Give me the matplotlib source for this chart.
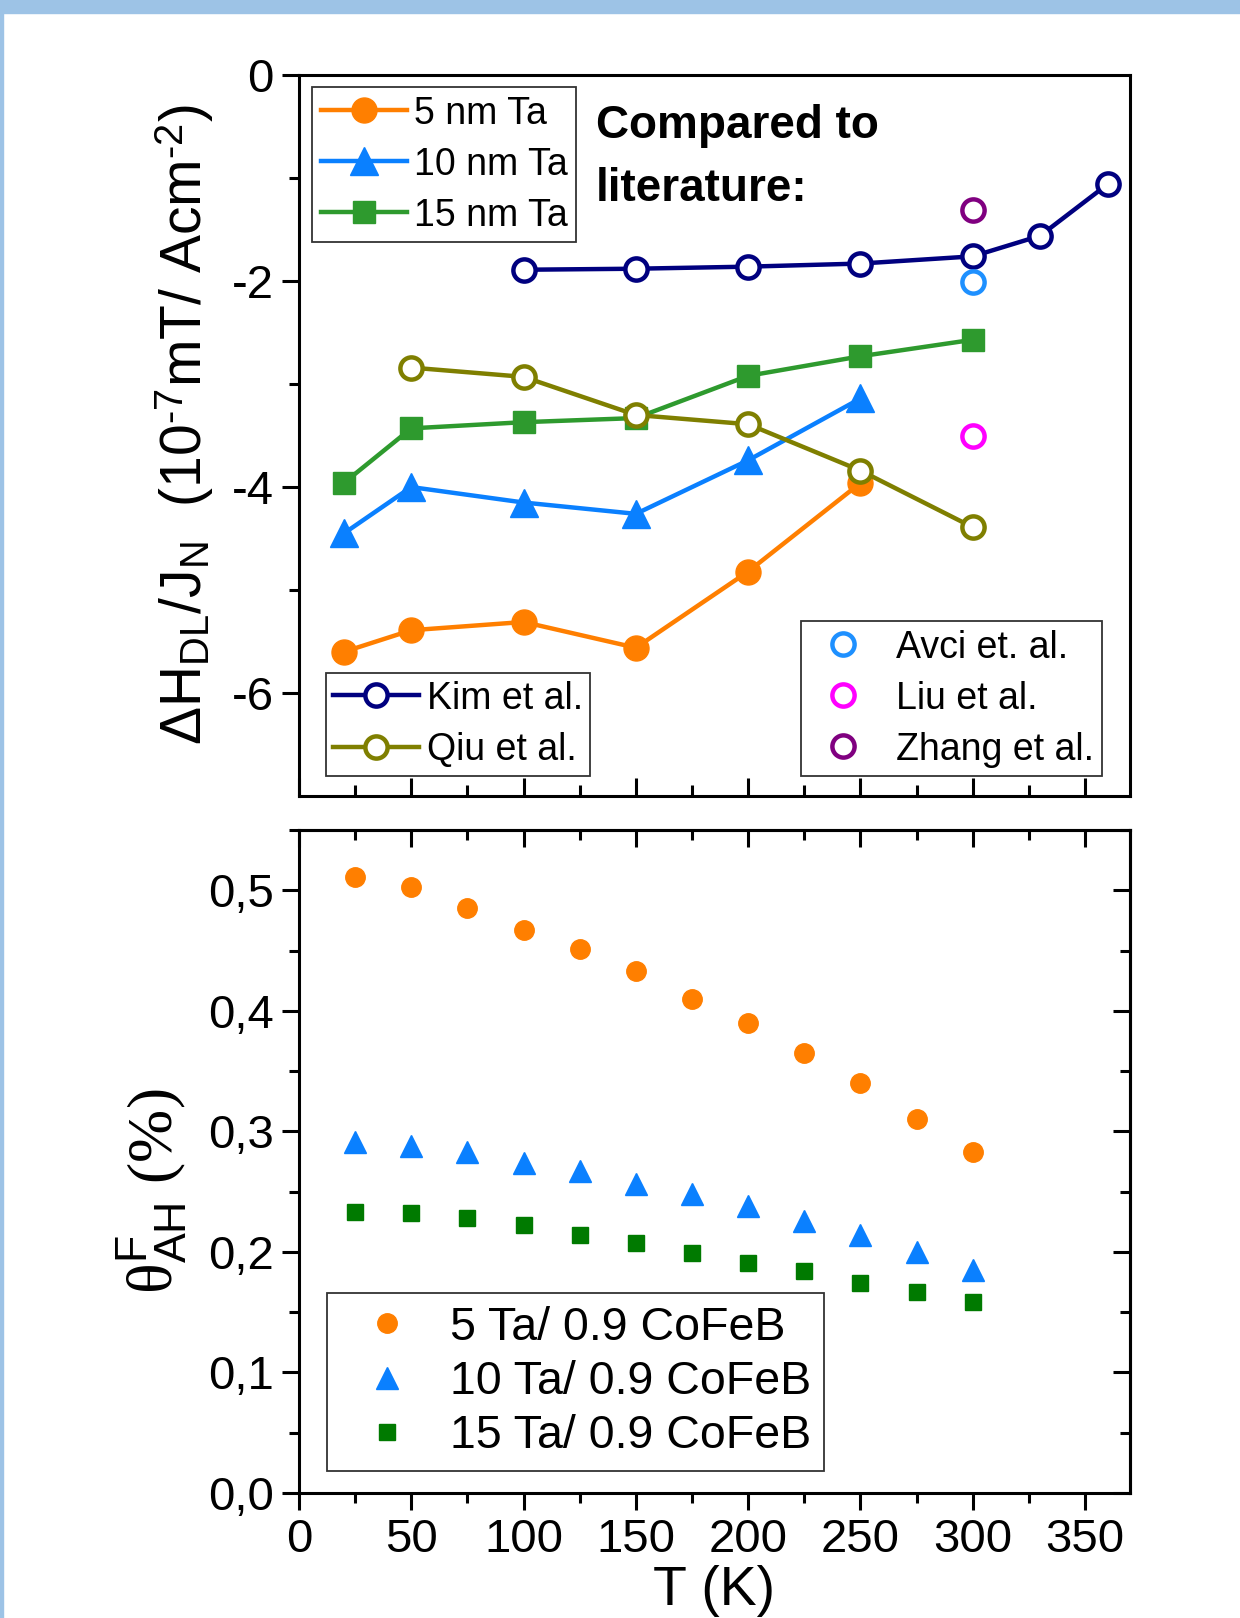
"""Damping-like field efficiency and anomalous Hall angle vs temperature for Ta/CoFeB."""
import matplotlib
matplotlib.use("Agg")
import matplotlib.pyplot as plt
from matplotlib.patches import Rectangle
from matplotlib.ticker import MultipleLocator, FixedLocator, FixedFormatter

plt.rcParams["font.family"] = ["Liberation Sans", "DejaVu Sans"]
plt.rcParams["axes.unicode_minus"] = False
plt.rcParams["mathtext.fontset"] = "custom"
plt.rcParams["mathtext.rm"] = "Liberation Serif"
plt.rcParams["mathtext.sf"] = "Liberation Sans"
plt.rcParams["mathtext.it"] = "Liberation Serif:italic"

# --- top panel: dH_DL / J_N  (1e-7 mT / A cm^-2) ---
T_ta = [20, 50, 100, 150, 200, 250]
h_5ta = [-5.60, -5.39, -5.31, -5.56, -4.82, -3.96]
h_10ta = [-4.45, -4.00, -4.15, -4.26, -3.74, -3.14]
T_15ta = [20, 50, 100, 150, 200, 250, 300]
h_15ta = [-3.96, -3.43, -3.37, -3.33, -2.92, -2.73, -2.57]

T_kim = [100, 150, 200, 250, 300, 330, 360]
h_kim = [-1.89, -1.88, -1.86, -1.83, -1.76, -1.56, -1.06]
T_qiu = [50, 100, 150, 200, 250, 300]
h_qiu = [-2.84, -2.93, -3.30, -3.39, -3.84, -4.39]

T_single = [300]
h_avci = [-2.01]
h_liu = [-3.50]
h_zhang = [-1.31]

# --- bottom panel: anomalous Hall angle (%) ---
T_ah = [25, 50, 75, 100, 125, 150, 175, 200, 225, 250, 275, 300]
ah_5ta = [0.511, 0.503, 0.485, 0.467, 0.451, 0.433, 0.410, 0.390, 0.365, 0.340, 0.310, 0.283]
ah_10ta = [0.291, 0.288, 0.283, 0.274, 0.267, 0.256, 0.248, 0.238, 0.226, 0.214, 0.200, 0.185]
ah_15ta = [0.233, 0.232, 0.228, 0.222, 0.214, 0.207, 0.199, 0.191, 0.184, 0.174, 0.167, 0.158]

top_yticks = [0, -2, -4, -6]
top_yticklabels = ["0", "-2", "-4", "-6"]
bot_yticks = [0.0, 0.1, 0.2, 0.3, 0.4, 0.5]
bot_yticklabels = ["0,0", "0,1", "0,2", "0,3", "0,4", "0,5"]
xticks = [0, 50, 100, 150, 200, 250, 300, 350]

ORANGE = "#ff7f00"
BLUE = "#0a80ff"
GREEN_TOP = "#2e9a2e"
GREEN_BOT = "#007a00"
NAVY = "#00007f"
OLIVE = "#7f7f00"
AVCI = "#1e90ff"
LIU = "#ff00ff"
ZHANG = "#800080"

HY = "\u2010"  # short hyphen for exponents


def style_frame(leg):
    fr = leg.get_frame()
    fr.set_edgecolor("#333333")
    fr.set_linewidth(1.3)
    fr.set_boxstyle("square", pad=0)


def main():
    fig = plt.figure(figsize=(12.4, 16.18), dpi=100)
    # light blue border strip along the top and left edge
    fig.patches.append(Rectangle((0, 1 - 13 / 1618), 1, 13 / 1618, transform=fig.transFigure,
                                 color="#9dc3e6", zorder=0))
    fig.patches.append(Rectangle((0, 0), 3 / 1240, 1, transform=fig.transFigure,
                                 color="#9dc3e6", zorder=0))

    ax1 = fig.add_axes([0.2411, 0.508, 0.6702, 0.4456])
    ax2 = fig.add_axes([0.2411, 0.0773, 0.6702, 0.4097])

    lw = 3.2
    l5, = ax1.plot(T_ta, h_5ta, "-o", color=ORANGE, lw=lw, ms=18, mec=ORANGE, label="5 nm Ta")
    l10, = ax1.plot(T_ta, h_10ta, "-^", color=BLUE, lw=lw, ms=20, mec=BLUE, label="10 nm Ta")
    l15, = ax1.plot(T_15ta, h_15ta, "-s", color=GREEN_TOP, lw=lw, ms=16, mec=GREEN_TOP, label="15 nm Ta")
    lk, = ax1.plot(T_kim, h_kim, "-o", color=NAVY, lw=lw, ms=16, mfc="white", mew=3.2, label="Kim et al.")
    lq, = ax1.plot(T_qiu, h_qiu, "-o", color=OLIVE, lw=lw, ms=16, mfc="white", mew=3.2, label="Qiu et al.")
    la, = ax1.plot(T_single, h_avci, "o", color=AVCI, ms=16, mfc="white", mew=3.2, ls="none", label="Avci et. al.")
    ll, = ax1.plot(T_single, h_liu, "o", color=LIU, ms=16, mfc="white", mew=3.2, ls="none", label="Liu et al.")
    lz, = ax1.plot(T_single, h_zhang, "o", color=ZHANG, ms=16, mfc="white", mew=3.2, ls="none", label="Zhang et al.")

    ax1.set_xlim(0, 370)
    ax1.set_ylim(-7, 0)
    for side in ("top", "right", "bottom", "left"):
        ax1.spines[side].set_linewidth(2.2)
    ax1.yaxis.set_major_locator(FixedLocator(top_yticks))
    ax1.yaxis.set_major_formatter(FixedFormatter(top_yticklabels))
    ax1.yaxis.set_minor_locator(FixedLocator([-1, -3, -5]))
    ax1.xaxis.set_major_locator(FixedLocator(xticks))
    ax1.xaxis.set_minor_locator(MultipleLocator(25))
    ax1.tick_params(axis="y", which="both", direction="out", left=True, right=False, width=2.2,
                    labelsize=34, pad=6)
    ax1.tick_params(axis="y", which="major", length=12)
    ax1.tick_params(axis="y", which="minor", length=7)
    ax1.tick_params(axis="x", which="both", direction="in", bottom=True, top=False, width=2.2,
                    labelbottom=False)
    ax1.tick_params(axis="x", which="major", length=13)
    ax1.tick_params(axis="x", which="minor", length=8)
    ax1.set_ylabel(r"ΔH$_{\mathsf{DL}}$/J$_{\mathsf{N}}$  (10$^{\mathsf{" + HY + r"7}}$mT/ Acm$^{\mathsf{"
                   + HY + r"2}}$)", fontsize=41)
    ax1.yaxis.set_label_coords(-0.10, 0.515)

    ax1.text(0.357, 0.913, "Compared to", transform=ax1.transAxes, fontsize=33,
             fontweight="bold", va="baseline", ha="left")
    ax1.text(0.357, 0.825, "literature:", transform=ax1.transAxes, fontsize=33,
             fontweight="bold", va="baseline", ha="left")

    leg_kw = dict(frameon=True, fancybox=False, framealpha=1, numpoints=1,
                  prop={"size": 27})
    leg1 = ax1.legend(handles=[l5, l10, l15], loc="upper left", bbox_to_anchor=(0.016, 0.983),
                      handlelength=2.3, handletextpad=0.2, labelspacing=0.4, borderpad=0.22,
                      borderaxespad=0, **leg_kw)
    style_frame(leg1)
    ax1.add_artist(leg1)
    leg2 = ax1.legend(handles=[lk, lq], loc="lower left", bbox_to_anchor=(0.032, 0.028),
                      handlelength=2.3, handletextpad=0.2, labelspacing=0.42, borderpad=0.2,
                      borderaxespad=0, **leg_kw)
    style_frame(leg2)
    ax1.add_artist(leg2)
    leg3 = ax1.legend(handles=[la, ll, lz], loc="lower right", bbox_to_anchor=(0.966, 0.028),
                      handlelength=1.8, handletextpad=0.5, labelspacing=0.4, borderpad=0.22,
                      borderaxespad=0, **leg_kw)
    style_frame(leg3)

    # bottom panel
    s5, = ax2.plot(T_ah, ah_5ta, "o", color=ORANGE, ms=14, ls="none", label="5 Ta/ 0.9 CoFeB")
    s10, = ax2.plot(T_ah, ah_10ta, "^", color=BLUE, ms=16, ls="none", label="10 Ta/ 0.9 CoFeB")
    s15, = ax2.plot(T_ah, ah_15ta, "s", color=GREEN_BOT, ms=12, ls="none", label="15 Ta/ 0.9 CoFeB")
    ax2.set_xlim(0, 370)
    ax2.set_ylim(0, 0.55)
    for side in ("top", "right", "bottom", "left"):
        ax2.spines[side].set_linewidth(2.2)
    ax2.xaxis.set_major_locator(FixedLocator(xticks))
    ax2.xaxis.set_minor_locator(MultipleLocator(25))
    ax2.yaxis.set_major_locator(FixedLocator(bot_yticks))
    ax2.yaxis.set_major_formatter(FixedFormatter(bot_yticklabels))
    ax2.yaxis.set_minor_locator(MultipleLocator(0.05))
    ax2.tick_params(which="both", width=2.2, labelsize=34)
    ax2.tick_params(which="major", length=12)
    ax2.tick_params(which="minor", length=7)
    ax2.tick_params(axis="x", which="both", direction="out", pad=6)
    ax2.tick_params(axis="y", which="both", direction="out", pad=6)
    # mirrored ticks on top and right point inward
    ax2_top = ax2.secondary_xaxis("top")
    ax2_top.xaxis.set_major_locator(FixedLocator(xticks))
    ax2_top.xaxis.set_minor_locator(MultipleLocator(25))
    ax2_top.tick_params(which="both", direction="in", width=2.2, labeltop=False)
    ax2_top.tick_params(which="major", length=12)
    ax2_top.tick_params(which="minor", length=7)
    ax2_top.spines["top"].set_linewidth(2.2)
    ax2_right = ax2.secondary_yaxis("right")
    ax2_right.yaxis.set_major_locator(FixedLocator(bot_yticks))
    ax2_right.yaxis.set_minor_locator(MultipleLocator(0.05))
    ax2_right.tick_params(which="both", direction="in", width=2.2, labelright=False)
    ax2_right.tick_params(which="major", length=12)
    ax2_right.tick_params(which="minor", length=7)
    ax2_right.spines["right"].set_linewidth(2.2)

    ax2.set_xlabel("T (K)", fontsize=40, labelpad=2)
    ax2.set_ylabel(r"$\mathrm{\theta}^{\mathsf{F}}_{\mathsf{AH}}$ (%)", fontsize=46,
                   family="Liberation Serif")
    ax2.yaxis.set_label_coords(-0.132, 0.455)

    leg4 = ax2.legend(handles=[s5, s10, s15], loc="lower left", bbox_to_anchor=(0.034, 0.033),
                      frameon=True, fancybox=False, framealpha=1, numpoints=1,
                      prop={"size": 33.5}, handlelength=2.0, handletextpad=0.35,
                      labelspacing=0.22, borderpad=0.28, borderaxespad=0)
    style_frame(leg4)

    fig.savefig("out.png", dpi=100)


if __name__ == "__main__":
    main()
